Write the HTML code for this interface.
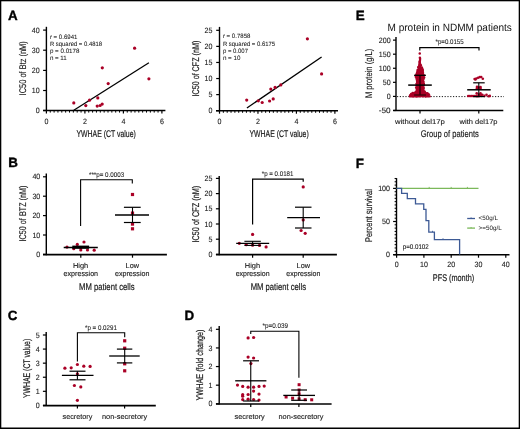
<!DOCTYPE html>
<html><head><meta charset="utf-8"><style>
html,body{margin:0;padding:0;background:#fff;}
svg{display:block;font-family:"Liberation Sans",sans-serif;will-change:transform;-webkit-font-smoothing:antialiased;text-rendering:geometricPrecision;}
</style></head><body>
<svg width="520" height="429" viewBox="0 0 520 429">
<rect x="0" y="0" width="520" height="429" fill="#fff"/>
<rect x="0" y="0" width="520" height="1.3" fill="#000"/>
<rect x="0" y="0" width="1.3" height="429" fill="#000"/>
<rect x="518.7" y="0" width="1.3" height="429" fill="#000"/>
<rect x="0" y="427.5" width="520" height="1.5" fill="#000"/>
<text x="8.00" y="19.80" font-size="13.4" font-weight="bold" text-anchor="start" fill="#000" stroke="#000" stroke-width="0.35">A</text>
<text x="355.80" y="19.60" font-size="13.4" font-weight="bold" text-anchor="start" fill="#000" stroke="#000" stroke-width="0.35">E</text>
<text x="8.20" y="167.10" font-size="13.4" font-weight="bold" text-anchor="start" fill="#000" stroke="#000" stroke-width="0.35">B</text>
<text x="355.80" y="167.50" font-size="13.4" font-weight="bold" text-anchor="start" fill="#000" stroke="#000" stroke-width="0.35">F</text>
<text x="7.80" y="320.20" font-size="13.4" font-weight="bold" text-anchor="start" fill="#000" stroke="#000" stroke-width="0.35">C</text>
<text x="184.60" y="320.00" font-size="13.4" font-weight="bold" text-anchor="start" fill="#000" stroke="#000" stroke-width="0.35">D</text>
<line x1="46.40" y1="26.80" x2="46.40" y2="111.00" stroke="#000" stroke-width="1.4" />
<line x1="43.10" y1="110.50" x2="165.40" y2="110.50" stroke="#000" stroke-width="1.4" />
<line x1="43.10" y1="30.10" x2="46.40" y2="30.10" stroke="#000" stroke-width="1.2" />
<text x="39.60" y="32.70" font-size="7.7" font-weight="normal" text-anchor="end" fill="#1a1a1a" textLength="7.90" lengthAdjust="spacingAndGlyphs" stroke="#1a1a1a" stroke-width="0.1">40</text>
<line x1="43.10" y1="50.20" x2="46.40" y2="50.20" stroke="#000" stroke-width="1.2" />
<text x="39.60" y="52.80" font-size="7.7" font-weight="normal" text-anchor="end" fill="#1a1a1a" textLength="7.90" lengthAdjust="spacingAndGlyphs" stroke="#1a1a1a" stroke-width="0.1">30</text>
<line x1="43.10" y1="70.40" x2="46.40" y2="70.40" stroke="#000" stroke-width="1.2" />
<text x="39.60" y="73.00" font-size="7.7" font-weight="normal" text-anchor="end" fill="#1a1a1a" textLength="7.90" lengthAdjust="spacingAndGlyphs" stroke="#1a1a1a" stroke-width="0.1">20</text>
<line x1="43.10" y1="90.50" x2="46.40" y2="90.50" stroke="#000" stroke-width="1.2" />
<text x="39.60" y="93.10" font-size="7.7" font-weight="normal" text-anchor="end" fill="#1a1a1a" textLength="7.90" lengthAdjust="spacingAndGlyphs" stroke="#1a1a1a" stroke-width="0.1">10</text>
<line x1="43.10" y1="110.50" x2="46.40" y2="110.50" stroke="#000" stroke-width="1.2" />
<text x="39.60" y="113.10" font-size="7.7" font-weight="normal" text-anchor="end" fill="#1a1a1a" textLength="3.95" lengthAdjust="spacingAndGlyphs" stroke="#1a1a1a" stroke-width="0.1">0</text>
<line x1="46.40" y1="110.50" x2="46.40" y2="113.50" stroke="#000" stroke-width="1.2" />
<line x1="50.25" y1="110.50" x2="50.25" y2="112.60" stroke="#000" stroke-width="1.0" />
<line x1="54.10" y1="110.50" x2="54.10" y2="112.60" stroke="#000" stroke-width="1.0" />
<line x1="57.95" y1="110.50" x2="57.95" y2="112.60" stroke="#000" stroke-width="1.0" />
<line x1="61.80" y1="110.50" x2="61.80" y2="112.60" stroke="#000" stroke-width="1.0" />
<line x1="65.65" y1="110.50" x2="65.65" y2="112.60" stroke="#000" stroke-width="1.0" />
<line x1="69.50" y1="110.50" x2="69.50" y2="112.60" stroke="#000" stroke-width="1.0" />
<line x1="73.35" y1="110.50" x2="73.35" y2="112.60" stroke="#000" stroke-width="1.0" />
<line x1="77.20" y1="110.50" x2="77.20" y2="112.60" stroke="#000" stroke-width="1.0" />
<line x1="81.05" y1="110.50" x2="81.05" y2="112.60" stroke="#000" stroke-width="1.0" />
<line x1="84.90" y1="110.50" x2="84.90" y2="113.50" stroke="#000" stroke-width="1.2" />
<line x1="88.75" y1="110.50" x2="88.75" y2="112.60" stroke="#000" stroke-width="1.0" />
<line x1="92.60" y1="110.50" x2="92.60" y2="112.60" stroke="#000" stroke-width="1.0" />
<line x1="96.45" y1="110.50" x2="96.45" y2="112.60" stroke="#000" stroke-width="1.0" />
<line x1="100.30" y1="110.50" x2="100.30" y2="112.60" stroke="#000" stroke-width="1.0" />
<line x1="104.15" y1="110.50" x2="104.15" y2="112.60" stroke="#000" stroke-width="1.0" />
<line x1="108.00" y1="110.50" x2="108.00" y2="112.60" stroke="#000" stroke-width="1.0" />
<line x1="111.85" y1="110.50" x2="111.85" y2="112.60" stroke="#000" stroke-width="1.0" />
<line x1="115.70" y1="110.50" x2="115.70" y2="112.60" stroke="#000" stroke-width="1.0" />
<line x1="119.55" y1="110.50" x2="119.55" y2="112.60" stroke="#000" stroke-width="1.0" />
<line x1="123.40" y1="110.50" x2="123.40" y2="113.50" stroke="#000" stroke-width="1.2" />
<line x1="127.25" y1="110.50" x2="127.25" y2="112.60" stroke="#000" stroke-width="1.0" />
<line x1="131.10" y1="110.50" x2="131.10" y2="112.60" stroke="#000" stroke-width="1.0" />
<line x1="134.95" y1="110.50" x2="134.95" y2="112.60" stroke="#000" stroke-width="1.0" />
<line x1="138.80" y1="110.50" x2="138.80" y2="112.60" stroke="#000" stroke-width="1.0" />
<line x1="142.65" y1="110.50" x2="142.65" y2="112.60" stroke="#000" stroke-width="1.0" />
<line x1="146.50" y1="110.50" x2="146.50" y2="112.60" stroke="#000" stroke-width="1.0" />
<line x1="150.35" y1="110.50" x2="150.35" y2="112.60" stroke="#000" stroke-width="1.0" />
<line x1="154.20" y1="110.50" x2="154.20" y2="112.60" stroke="#000" stroke-width="1.0" />
<line x1="158.05" y1="110.50" x2="158.05" y2="112.60" stroke="#000" stroke-width="1.0" />
<line x1="161.90" y1="110.50" x2="161.90" y2="113.50" stroke="#000" stroke-width="1.2" />
<text x="46.40" y="123.60" font-size="7.7" font-weight="normal" text-anchor="middle" fill="#1a1a1a" textLength="3.95" lengthAdjust="spacingAndGlyphs" stroke="#1a1a1a" stroke-width="0.1">0</text>
<text x="84.90" y="123.60" font-size="7.7" font-weight="normal" text-anchor="middle" fill="#1a1a1a" textLength="3.95" lengthAdjust="spacingAndGlyphs" stroke="#1a1a1a" stroke-width="0.1">2</text>
<text x="123.40" y="123.60" font-size="7.7" font-weight="normal" text-anchor="middle" fill="#1a1a1a" textLength="3.95" lengthAdjust="spacingAndGlyphs" stroke="#1a1a1a" stroke-width="0.1">4</text>
<text x="161.90" y="123.60" font-size="7.7" font-weight="normal" text-anchor="middle" fill="#1a1a1a" textLength="3.95" lengthAdjust="spacingAndGlyphs" stroke="#1a1a1a" stroke-width="0.1">6</text>
<text x="26.10" y="95.40" font-size="9.7" font-weight="normal" text-anchor="start" fill="#1a1a1a" textLength="54.20" lengthAdjust="spacingAndGlyphs" stroke="#1a1a1a" stroke-width="0.12" transform="rotate(-90 26.10 95.40)">IC50 of Btz (nM)</text>
<text x="76.50" y="136.90" font-size="9.7" font-weight="normal" text-anchor="start" fill="#1a1a1a" textLength="59.30" lengthAdjust="spacingAndGlyphs" stroke="#1a1a1a" stroke-width="0.2">YWHAE (CT value)</text>
<text x="49.90" y="38.50" font-size="6.3" font-weight="normal" text-anchor="start" fill="#1a1a1a" textLength="27.50" lengthAdjust="spacingAndGlyphs" stroke="#1a1a1a" stroke-width="0.06">r = 0.6941</text>
<text x="49.90" y="45.50" font-size="6.3" font-weight="normal" text-anchor="start" fill="#1a1a1a" textLength="52.20" lengthAdjust="spacingAndGlyphs" stroke="#1a1a1a" stroke-width="0.06">R squared = 0.4818</text>
<text x="49.90" y="52.70" font-size="6.3" font-weight="normal" text-anchor="start" fill="#1a1a1a" textLength="29.60" lengthAdjust="spacingAndGlyphs" stroke="#1a1a1a" stroke-width="0.06">p = 0.0178</text>
<text x="49.90" y="59.80" font-size="6.3" font-weight="normal" text-anchor="start" fill="#1a1a1a" textLength="16.90" lengthAdjust="spacingAndGlyphs" stroke="#1a1a1a" stroke-width="0.06">n = 11</text>
<line x1="73.80" y1="110.30" x2="148.90" y2="62.70" stroke="#000" stroke-width="1.3" />
<circle cx="73.80" cy="102.90" r="1.6" fill="#aa0026"/>
<circle cx="85.80" cy="105.60" r="1.6" fill="#aa0026"/>
<circle cx="89.50" cy="100.20" r="1.6" fill="#aa0026"/>
<circle cx="97.80" cy="97.90" r="1.6" fill="#aa0026"/>
<circle cx="97.20" cy="106.10" r="1.6" fill="#aa0026"/>
<circle cx="100.10" cy="105.50" r="1.6" fill="#aa0026"/>
<circle cx="102.20" cy="104.10" r="1.6" fill="#aa0026"/>
<circle cx="102.30" cy="67.80" r="1.6" fill="#aa0026"/>
<circle cx="108.20" cy="83.60" r="1.6" fill="#aa0026"/>
<circle cx="148.90" cy="78.80" r="1.6" fill="#aa0026"/>
<circle cx="134.60" cy="48.20" r="1.6" fill="#aa0026"/>
<line x1="219.50" y1="26.90" x2="219.50" y2="111.20" stroke="#000" stroke-width="1.4" />
<line x1="216.00" y1="110.70" x2="338.00" y2="110.70" stroke="#000" stroke-width="1.4" />
<line x1="216.20" y1="30.30" x2="219.50" y2="30.30" stroke="#000" stroke-width="1.2" />
<text x="212.40" y="32.90" font-size="7.7" font-weight="normal" text-anchor="end" fill="#1a1a1a" textLength="7.90" lengthAdjust="spacingAndGlyphs" stroke="#1a1a1a" stroke-width="0.1">25</text>
<line x1="216.20" y1="46.38" x2="219.50" y2="46.38" stroke="#000" stroke-width="1.2" />
<text x="212.40" y="48.98" font-size="7.7" font-weight="normal" text-anchor="end" fill="#1a1a1a" textLength="7.90" lengthAdjust="spacingAndGlyphs" stroke="#1a1a1a" stroke-width="0.1">20</text>
<line x1="216.20" y1="62.46" x2="219.50" y2="62.46" stroke="#000" stroke-width="1.2" />
<text x="212.40" y="65.06" font-size="7.7" font-weight="normal" text-anchor="end" fill="#1a1a1a" textLength="7.90" lengthAdjust="spacingAndGlyphs" stroke="#1a1a1a" stroke-width="0.1">15</text>
<line x1="216.20" y1="78.54" x2="219.50" y2="78.54" stroke="#000" stroke-width="1.2" />
<text x="212.40" y="81.14" font-size="7.7" font-weight="normal" text-anchor="end" fill="#1a1a1a" textLength="7.90" lengthAdjust="spacingAndGlyphs" stroke="#1a1a1a" stroke-width="0.1">10</text>
<line x1="216.20" y1="94.62" x2="219.50" y2="94.62" stroke="#000" stroke-width="1.2" />
<text x="212.40" y="97.22" font-size="7.7" font-weight="normal" text-anchor="end" fill="#1a1a1a" textLength="3.95" lengthAdjust="spacingAndGlyphs" stroke="#1a1a1a" stroke-width="0.1">5</text>
<line x1="216.20" y1="110.70" x2="219.50" y2="110.70" stroke="#000" stroke-width="1.2" />
<text x="212.40" y="113.30" font-size="7.7" font-weight="normal" text-anchor="end" fill="#1a1a1a" textLength="3.95" lengthAdjust="spacingAndGlyphs" stroke="#1a1a1a" stroke-width="0.1">0</text>
<line x1="219.50" y1="110.70" x2="219.50" y2="113.70" stroke="#000" stroke-width="1.2" />
<line x1="223.35" y1="110.70" x2="223.35" y2="112.80" stroke="#000" stroke-width="1.0" />
<line x1="227.19" y1="110.70" x2="227.19" y2="112.80" stroke="#000" stroke-width="1.0" />
<line x1="231.04" y1="110.70" x2="231.04" y2="112.80" stroke="#000" stroke-width="1.0" />
<line x1="234.88" y1="110.70" x2="234.88" y2="112.80" stroke="#000" stroke-width="1.0" />
<line x1="238.73" y1="110.70" x2="238.73" y2="112.80" stroke="#000" stroke-width="1.0" />
<line x1="242.58" y1="110.70" x2="242.58" y2="112.80" stroke="#000" stroke-width="1.0" />
<line x1="246.42" y1="110.70" x2="246.42" y2="112.80" stroke="#000" stroke-width="1.0" />
<line x1="250.27" y1="110.70" x2="250.27" y2="112.80" stroke="#000" stroke-width="1.0" />
<line x1="254.11" y1="110.70" x2="254.11" y2="112.80" stroke="#000" stroke-width="1.0" />
<line x1="257.96" y1="110.70" x2="257.96" y2="113.70" stroke="#000" stroke-width="1.2" />
<line x1="261.81" y1="110.70" x2="261.81" y2="112.80" stroke="#000" stroke-width="1.0" />
<line x1="265.65" y1="110.70" x2="265.65" y2="112.80" stroke="#000" stroke-width="1.0" />
<line x1="269.50" y1="110.70" x2="269.50" y2="112.80" stroke="#000" stroke-width="1.0" />
<line x1="273.34" y1="110.70" x2="273.34" y2="112.80" stroke="#000" stroke-width="1.0" />
<line x1="277.19" y1="110.70" x2="277.19" y2="112.80" stroke="#000" stroke-width="1.0" />
<line x1="281.04" y1="110.70" x2="281.04" y2="112.80" stroke="#000" stroke-width="1.0" />
<line x1="284.88" y1="110.70" x2="284.88" y2="112.80" stroke="#000" stroke-width="1.0" />
<line x1="288.73" y1="110.70" x2="288.73" y2="112.80" stroke="#000" stroke-width="1.0" />
<line x1="292.57" y1="110.70" x2="292.57" y2="112.80" stroke="#000" stroke-width="1.0" />
<line x1="296.42" y1="110.70" x2="296.42" y2="113.70" stroke="#000" stroke-width="1.2" />
<line x1="300.27" y1="110.70" x2="300.27" y2="112.80" stroke="#000" stroke-width="1.0" />
<line x1="304.11" y1="110.70" x2="304.11" y2="112.80" stroke="#000" stroke-width="1.0" />
<line x1="307.96" y1="110.70" x2="307.96" y2="112.80" stroke="#000" stroke-width="1.0" />
<line x1="311.80" y1="110.70" x2="311.80" y2="112.80" stroke="#000" stroke-width="1.0" />
<line x1="315.65" y1="110.70" x2="315.65" y2="112.80" stroke="#000" stroke-width="1.0" />
<line x1="319.50" y1="110.70" x2="319.50" y2="112.80" stroke="#000" stroke-width="1.0" />
<line x1="323.34" y1="110.70" x2="323.34" y2="112.80" stroke="#000" stroke-width="1.0" />
<line x1="327.19" y1="110.70" x2="327.19" y2="112.80" stroke="#000" stroke-width="1.0" />
<line x1="331.03" y1="110.70" x2="331.03" y2="112.80" stroke="#000" stroke-width="1.0" />
<line x1="334.88" y1="110.70" x2="334.88" y2="113.70" stroke="#000" stroke-width="1.2" />
<text x="219.50" y="123.60" font-size="7.7" font-weight="normal" text-anchor="middle" fill="#1a1a1a" textLength="3.95" lengthAdjust="spacingAndGlyphs" stroke="#1a1a1a" stroke-width="0.1">0</text>
<text x="257.96" y="123.60" font-size="7.7" font-weight="normal" text-anchor="middle" fill="#1a1a1a" textLength="3.95" lengthAdjust="spacingAndGlyphs" stroke="#1a1a1a" stroke-width="0.1">2</text>
<text x="296.42" y="123.60" font-size="7.7" font-weight="normal" text-anchor="middle" fill="#1a1a1a" textLength="3.95" lengthAdjust="spacingAndGlyphs" stroke="#1a1a1a" stroke-width="0.1">4</text>
<text x="334.88" y="123.60" font-size="7.7" font-weight="normal" text-anchor="middle" fill="#1a1a1a" textLength="3.95" lengthAdjust="spacingAndGlyphs" stroke="#1a1a1a" stroke-width="0.1">6</text>
<text x="198.60" y="96.50" font-size="9.7" font-weight="normal" text-anchor="start" fill="#1a1a1a" textLength="55.80" lengthAdjust="spacingAndGlyphs" stroke="#1a1a1a" stroke-width="0.2" transform="rotate(-90 198.60 96.50)">IC50 of CFZ (nM)</text>
<text x="249.50" y="137.00" font-size="9.7" font-weight="normal" text-anchor="start" fill="#1a1a1a" textLength="59.20" lengthAdjust="spacingAndGlyphs" stroke="#1a1a1a" stroke-width="0.2">YWHAE (CT value)</text>
<text x="222.90" y="38.00" font-size="6.3" font-weight="normal" text-anchor="start" fill="#1a1a1a" textLength="27.50" lengthAdjust="spacingAndGlyphs" stroke="#1a1a1a" stroke-width="0.06">r = 0.7858</text>
<text x="222.90" y="45.50" font-size="6.3" font-weight="normal" text-anchor="start" fill="#1a1a1a" textLength="52.20" lengthAdjust="spacingAndGlyphs" stroke="#1a1a1a" stroke-width="0.06">R squared = 0.6175</text>
<text x="222.90" y="52.50" font-size="6.3" font-weight="normal" text-anchor="start" fill="#1a1a1a" textLength="25.10" lengthAdjust="spacingAndGlyphs" stroke="#1a1a1a" stroke-width="0.06">p = 0.007</text>
<text x="222.90" y="59.80" font-size="6.3" font-weight="normal" text-anchor="start" fill="#1a1a1a" textLength="17.60" lengthAdjust="spacingAndGlyphs" stroke="#1a1a1a" stroke-width="0.06">n = 10</text>
<line x1="246.90" y1="108.00" x2="321.60" y2="57.00" stroke="#000" stroke-width="1.3" />
<circle cx="246.70" cy="100.10" r="1.6" fill="#aa0026"/>
<circle cx="258.30" cy="100.80" r="1.6" fill="#aa0026"/>
<circle cx="262.20" cy="102.50" r="1.6" fill="#aa0026"/>
<circle cx="269.60" cy="101.00" r="1.6" fill="#aa0026"/>
<circle cx="270.80" cy="89.10" r="1.6" fill="#aa0026"/>
<circle cx="273.20" cy="98.90" r="1.6" fill="#aa0026"/>
<circle cx="275.10" cy="87.40" r="1.6" fill="#aa0026"/>
<circle cx="280.80" cy="84.90" r="1.6" fill="#aa0026"/>
<circle cx="321.60" cy="73.90" r="1.6" fill="#aa0026"/>
<circle cx="307.40" cy="38.80" r="1.6" fill="#aa0026"/>
<line x1="396.00" y1="36.90" x2="396.00" y2="111.10" stroke="#000" stroke-width="1.4" />
<line x1="393.30" y1="110.60" x2="503.30" y2="110.60" stroke="#000" stroke-width="1.5" />
<line x1="393.00" y1="40.12" x2="396.00" y2="40.12" stroke="#000" stroke-width="1.2" />
<text x="390.60" y="42.72" font-size="7.7" font-weight="normal" text-anchor="end" fill="#1a1a1a" textLength="11.85" lengthAdjust="spacingAndGlyphs" stroke="#1a1a1a" stroke-width="0.1">200</text>
<line x1="393.00" y1="54.19" x2="396.00" y2="54.19" stroke="#000" stroke-width="1.2" />
<text x="390.60" y="56.79" font-size="7.7" font-weight="normal" text-anchor="end" fill="#1a1a1a" textLength="11.85" lengthAdjust="spacingAndGlyphs" stroke="#1a1a1a" stroke-width="0.1">150</text>
<line x1="393.00" y1="68.26" x2="396.00" y2="68.26" stroke="#000" stroke-width="1.2" />
<text x="390.60" y="70.86" font-size="7.7" font-weight="normal" text-anchor="end" fill="#1a1a1a" textLength="11.85" lengthAdjust="spacingAndGlyphs" stroke="#1a1a1a" stroke-width="0.1">100</text>
<line x1="393.00" y1="82.33" x2="396.00" y2="82.33" stroke="#000" stroke-width="1.2" />
<text x="390.60" y="84.93" font-size="7.7" font-weight="normal" text-anchor="end" fill="#1a1a1a" textLength="7.90" lengthAdjust="spacingAndGlyphs" stroke="#1a1a1a" stroke-width="0.1">50</text>
<line x1="393.00" y1="96.40" x2="396.00" y2="96.40" stroke="#000" stroke-width="1.2" />
<text x="390.60" y="99.00" font-size="7.7" font-weight="normal" text-anchor="end" fill="#1a1a1a" textLength="3.95" lengthAdjust="spacingAndGlyphs" stroke="#1a1a1a" stroke-width="0.1">0</text>
<line x1="393.00" y1="110.47" x2="396.00" y2="110.47" stroke="#000" stroke-width="1.2" />
<text x="390.60" y="113.07" font-size="7.7" font-weight="normal" text-anchor="end" fill="#1a1a1a" textLength="11.85" lengthAdjust="spacingAndGlyphs" stroke="#1a1a1a" stroke-width="0.1">-50</text>
<line x1="420.00" y1="110.60" x2="420.00" y2="113.40" stroke="#000" stroke-width="1.2" />
<line x1="478.80" y1="110.60" x2="478.80" y2="113.40" stroke="#000" stroke-width="1.2" />
<text x="387.50" y="31.20" font-size="10.6" font-weight="normal" text-anchor="start" fill="#111" textLength="124.40" lengthAdjust="spacingAndGlyphs">M protein in NDMM patients</text>
<text x="371.90" y="98.10" font-size="9.7" font-weight="normal" text-anchor="start" fill="#1a1a1a" textLength="49.40" lengthAdjust="spacingAndGlyphs" stroke="#1a1a1a" stroke-width="0.12" transform="rotate(-90 371.90 98.10)">M protein (g/L)</text>
<text x="395.10" y="123.80" font-size="7.0" font-weight="normal" text-anchor="start" fill="#1a1a1a" textLength="49.70" lengthAdjust="spacingAndGlyphs" stroke="#1a1a1a" stroke-width="0.12">without del17p</text>
<text x="459.60" y="123.90" font-size="7.0" font-weight="normal" text-anchor="start" fill="#1a1a1a" textLength="37.90" lengthAdjust="spacingAndGlyphs" stroke="#1a1a1a" stroke-width="0.12">with del17p</text>
<text x="420.70" y="136.90" font-size="9.7" font-weight="normal" text-anchor="start" fill="#1a1a1a" textLength="58.10" lengthAdjust="spacingAndGlyphs" stroke="#1a1a1a" stroke-width="0.16">Group of patients</text>
<line x1="397.00" y1="96.6" x2="504" y2="96.6" stroke="#000" stroke-width="0.9" stroke-dasharray="1.2 1.6"/>
<polyline points="419.80,50.60 419.80,47.60 479.00,47.60 479.00,50.60" fill="none" stroke="#000" stroke-width="1.2" stroke-linejoin="miter"/>
<text x="449.60" y="44.20" font-size="6.9" font-weight="normal" text-anchor="middle" fill="#1a1a1a" textLength="28.00" lengthAdjust="spacingAndGlyphs" stroke="#1a1a1a" stroke-width="0.08">*p=0.0155</text>
<circle cx="419.75" cy="53.50" r="1.25" fill="#aa0026"/>
<circle cx="419.89" cy="57.73" r="1.22" fill="#aa0026"/>
<circle cx="420.09" cy="58.79" r="1.22" fill="#aa0026"/>
<circle cx="420.02" cy="60.03" r="1.22" fill="#aa0026"/>
<circle cx="419.73" cy="61.20" r="1.22" fill="#aa0026"/>
<circle cx="419.72" cy="62.27" r="1.22" fill="#aa0026"/>
<circle cx="419.74" cy="63.20" r="1.22" fill="#aa0026"/>
<circle cx="419.38" cy="64.66" r="1.22" fill="#aa0026"/>
<circle cx="420.35" cy="64.36" r="1.22" fill="#aa0026"/>
<circle cx="419.23" cy="65.82" r="1.22" fill="#aa0026"/>
<circle cx="420.89" cy="65.55" r="1.22" fill="#aa0026"/>
<circle cx="418.37" cy="66.88" r="1.22" fill="#aa0026"/>
<circle cx="419.87" cy="66.52" r="1.22" fill="#aa0026"/>
<circle cx="418.37" cy="67.64" r="1.22" fill="#aa0026"/>
<circle cx="420.05" cy="67.87" r="1.22" fill="#aa0026"/>
<circle cx="421.85" cy="67.58" r="1.22" fill="#aa0026"/>
<circle cx="419.07" cy="68.99" r="1.22" fill="#aa0026"/>
<circle cx="420.71" cy="68.81" r="1.22" fill="#aa0026"/>
<circle cx="422.23" cy="68.80" r="1.22" fill="#aa0026"/>
<circle cx="417.67" cy="69.87" r="1.22" fill="#aa0026"/>
<circle cx="419.23" cy="70.01" r="1.22" fill="#aa0026"/>
<circle cx="421.04" cy="70.11" r="1.22" fill="#aa0026"/>
<circle cx="422.74" cy="69.81" r="1.22" fill="#aa0026"/>
<circle cx="417.54" cy="70.93" r="1.22" fill="#aa0026"/>
<circle cx="419.12" cy="70.87" r="1.22" fill="#aa0026"/>
<circle cx="420.97" cy="71.23" r="1.22" fill="#aa0026"/>
<circle cx="422.84" cy="71.01" r="1.22" fill="#aa0026"/>
<circle cx="417.28" cy="72.24" r="1.22" fill="#aa0026"/>
<circle cx="418.58" cy="72.37" r="1.22" fill="#aa0026"/>
<circle cx="420.27" cy="72.19" r="1.22" fill="#aa0026"/>
<circle cx="421.49" cy="71.98" r="1.22" fill="#aa0026"/>
<circle cx="422.87" cy="72.45" r="1.22" fill="#aa0026"/>
<circle cx="416.88" cy="73.24" r="1.22" fill="#aa0026"/>
<circle cx="418.61" cy="73.06" r="1.22" fill="#aa0026"/>
<circle cx="419.98" cy="73.13" r="1.22" fill="#aa0026"/>
<circle cx="421.27" cy="73.08" r="1.22" fill="#aa0026"/>
<circle cx="422.77" cy="73.17" r="1.22" fill="#aa0026"/>
<circle cx="416.90" cy="74.19" r="1.22" fill="#aa0026"/>
<circle cx="418.31" cy="74.42" r="1.22" fill="#aa0026"/>
<circle cx="420.23" cy="74.56" r="1.22" fill="#aa0026"/>
<circle cx="421.88" cy="74.29" r="1.22" fill="#aa0026"/>
<circle cx="423.24" cy="74.59" r="1.22" fill="#aa0026"/>
<circle cx="416.02" cy="75.34" r="1.22" fill="#aa0026"/>
<circle cx="417.58" cy="75.37" r="1.22" fill="#aa0026"/>
<circle cx="419.24" cy="75.54" r="1.22" fill="#aa0026"/>
<circle cx="420.61" cy="75.25" r="1.22" fill="#aa0026"/>
<circle cx="422.21" cy="75.43" r="1.22" fill="#aa0026"/>
<circle cx="424.04" cy="75.60" r="1.22" fill="#aa0026"/>
<circle cx="415.79" cy="76.69" r="1.22" fill="#aa0026"/>
<circle cx="416.88" cy="76.80" r="1.22" fill="#aa0026"/>
<circle cx="418.74" cy="76.79" r="1.22" fill="#aa0026"/>
<circle cx="420.18" cy="76.55" r="1.22" fill="#aa0026"/>
<circle cx="421.37" cy="76.40" r="1.22" fill="#aa0026"/>
<circle cx="422.93" cy="76.38" r="1.22" fill="#aa0026"/>
<circle cx="417.36" cy="77.62" r="1.22" fill="#aa0026"/>
<circle cx="418.92" cy="77.45" r="1.22" fill="#aa0026"/>
<circle cx="420.60" cy="77.50" r="1.22" fill="#aa0026"/>
<circle cx="422.35" cy="77.46" r="1.22" fill="#aa0026"/>
<circle cx="424.13" cy="77.52" r="1.22" fill="#aa0026"/>
<circle cx="416.50" cy="78.73" r="1.22" fill="#aa0026"/>
<circle cx="417.73" cy="78.97" r="1.22" fill="#aa0026"/>
<circle cx="419.61" cy="78.78" r="1.22" fill="#aa0026"/>
<circle cx="420.67" cy="78.59" r="1.22" fill="#aa0026"/>
<circle cx="421.81" cy="78.72" r="1.22" fill="#aa0026"/>
<circle cx="423.61" cy="78.63" r="1.22" fill="#aa0026"/>
<circle cx="418.82" cy="79.91" r="1.22" fill="#aa0026"/>
<circle cx="419.79" cy="79.92" r="1.22" fill="#aa0026"/>
<circle cx="421.17" cy="79.91" r="1.22" fill="#aa0026"/>
<circle cx="423.12" cy="80.00" r="1.22" fill="#aa0026"/>
<circle cx="417.02" cy="80.83" r="1.22" fill="#aa0026"/>
<circle cx="418.71" cy="81.02" r="1.22" fill="#aa0026"/>
<circle cx="420.17" cy="80.91" r="1.22" fill="#aa0026"/>
<circle cx="421.28" cy="81.16" r="1.22" fill="#aa0026"/>
<circle cx="423.11" cy="81.15" r="1.22" fill="#aa0026"/>
<circle cx="417.08" cy="81.96" r="1.22" fill="#aa0026"/>
<circle cx="418.48" cy="82.03" r="1.22" fill="#aa0026"/>
<circle cx="419.72" cy="81.86" r="1.22" fill="#aa0026"/>
<circle cx="421.40" cy="81.98" r="1.22" fill="#aa0026"/>
<circle cx="423.33" cy="82.07" r="1.22" fill="#aa0026"/>
<circle cx="416.95" cy="83.43" r="1.22" fill="#aa0026"/>
<circle cx="418.25" cy="83.06" r="1.22" fill="#aa0026"/>
<circle cx="419.84" cy="83.05" r="1.22" fill="#aa0026"/>
<circle cx="421.49" cy="83.26" r="1.22" fill="#aa0026"/>
<circle cx="423.54" cy="83.19" r="1.22" fill="#aa0026"/>
<circle cx="416.62" cy="84.09" r="1.22" fill="#aa0026"/>
<circle cx="417.96" cy="84.50" r="1.22" fill="#aa0026"/>
<circle cx="419.46" cy="84.43" r="1.22" fill="#aa0026"/>
<circle cx="420.70" cy="84.14" r="1.22" fill="#aa0026"/>
<circle cx="422.31" cy="84.22" r="1.22" fill="#aa0026"/>
<circle cx="423.84" cy="84.25" r="1.22" fill="#aa0026"/>
<circle cx="416.53" cy="85.51" r="1.22" fill="#aa0026"/>
<circle cx="417.56" cy="85.21" r="1.22" fill="#aa0026"/>
<circle cx="419.04" cy="85.60" r="1.22" fill="#aa0026"/>
<circle cx="420.93" cy="85.22" r="1.22" fill="#aa0026"/>
<circle cx="422.44" cy="85.64" r="1.22" fill="#aa0026"/>
<circle cx="423.65" cy="85.42" r="1.22" fill="#aa0026"/>
<circle cx="417.40" cy="86.74" r="1.22" fill="#aa0026"/>
<circle cx="419.32" cy="86.51" r="1.22" fill="#aa0026"/>
<circle cx="421.03" cy="86.47" r="1.22" fill="#aa0026"/>
<circle cx="422.53" cy="86.66" r="1.22" fill="#aa0026"/>
<circle cx="416.18" cy="87.47" r="1.22" fill="#aa0026"/>
<circle cx="417.83" cy="87.48" r="1.22" fill="#aa0026"/>
<circle cx="419.21" cy="87.42" r="1.22" fill="#aa0026"/>
<circle cx="420.99" cy="87.53" r="1.22" fill="#aa0026"/>
<circle cx="422.19" cy="87.64" r="1.22" fill="#aa0026"/>
<circle cx="423.65" cy="87.81" r="1.22" fill="#aa0026"/>
<circle cx="416.69" cy="88.71" r="1.22" fill="#aa0026"/>
<circle cx="418.04" cy="88.67" r="1.22" fill="#aa0026"/>
<circle cx="419.81" cy="88.45" r="1.22" fill="#aa0026"/>
<circle cx="421.85" cy="88.54" r="1.22" fill="#aa0026"/>
<circle cx="423.47" cy="88.73" r="1.22" fill="#aa0026"/>
<circle cx="417.04" cy="89.83" r="1.22" fill="#aa0026"/>
<circle cx="418.69" cy="89.60" r="1.22" fill="#aa0026"/>
<circle cx="420.04" cy="89.67" r="1.22" fill="#aa0026"/>
<circle cx="421.35" cy="89.94" r="1.22" fill="#aa0026"/>
<circle cx="423.00" cy="89.93" r="1.22" fill="#aa0026"/>
<circle cx="416.58" cy="90.96" r="1.22" fill="#aa0026"/>
<circle cx="417.97" cy="90.91" r="1.22" fill="#aa0026"/>
<circle cx="419.44" cy="90.88" r="1.22" fill="#aa0026"/>
<circle cx="420.70" cy="90.89" r="1.22" fill="#aa0026"/>
<circle cx="422.30" cy="91.00" r="1.22" fill="#aa0026"/>
<circle cx="423.65" cy="90.78" r="1.22" fill="#aa0026"/>
<circle cx="415.55" cy="92.17" r="1.22" fill="#aa0026"/>
<circle cx="416.64" cy="91.81" r="1.22" fill="#aa0026"/>
<circle cx="418.39" cy="91.79" r="1.22" fill="#aa0026"/>
<circle cx="419.84" cy="91.79" r="1.22" fill="#aa0026"/>
<circle cx="421.68" cy="92.14" r="1.22" fill="#aa0026"/>
<circle cx="423.38" cy="91.83" r="1.22" fill="#aa0026"/>
<circle cx="424.82" cy="91.82" r="1.22" fill="#aa0026"/>
<circle cx="412.60" cy="92.96" r="1.22" fill="#aa0026"/>
<circle cx="414.13" cy="93.05" r="1.22" fill="#aa0026"/>
<circle cx="415.38" cy="93.34" r="1.22" fill="#aa0026"/>
<circle cx="417.13" cy="92.93" r="1.22" fill="#aa0026"/>
<circle cx="418.42" cy="93.11" r="1.22" fill="#aa0026"/>
<circle cx="419.90" cy="92.95" r="1.22" fill="#aa0026"/>
<circle cx="421.43" cy="93.21" r="1.22" fill="#aa0026"/>
<circle cx="422.78" cy="93.13" r="1.22" fill="#aa0026"/>
<circle cx="424.57" cy="92.86" r="1.22" fill="#aa0026"/>
<circle cx="426.04" cy="93.16" r="1.22" fill="#aa0026"/>
<circle cx="427.42" cy="93.34" r="1.22" fill="#aa0026"/>
<circle cx="411.08" cy="94.00" r="1.22" fill="#aa0026"/>
<circle cx="412.19" cy="93.97" r="1.22" fill="#aa0026"/>
<circle cx="414.03" cy="94.09" r="1.22" fill="#aa0026"/>
<circle cx="415.18" cy="94.16" r="1.22" fill="#aa0026"/>
<circle cx="417.18" cy="94.36" r="1.22" fill="#aa0026"/>
<circle cx="418.32" cy="94.02" r="1.22" fill="#aa0026"/>
<circle cx="420.25" cy="94.24" r="1.22" fill="#aa0026"/>
<circle cx="421.65" cy="93.99" r="1.22" fill="#aa0026"/>
<circle cx="422.80" cy="94.29" r="1.22" fill="#aa0026"/>
<circle cx="424.56" cy="93.99" r="1.22" fill="#aa0026"/>
<circle cx="426.40" cy="94.27" r="1.22" fill="#aa0026"/>
<circle cx="427.85" cy="93.99" r="1.22" fill="#aa0026"/>
<circle cx="428.94" cy="94.38" r="1.22" fill="#aa0026"/>
<circle cx="410.13" cy="95.33" r="1.22" fill="#aa0026"/>
<circle cx="411.98" cy="95.18" r="1.22" fill="#aa0026"/>
<circle cx="413.01" cy="95.31" r="1.22" fill="#aa0026"/>
<circle cx="414.58" cy="95.10" r="1.22" fill="#aa0026"/>
<circle cx="416.04" cy="95.08" r="1.22" fill="#aa0026"/>
<circle cx="417.57" cy="95.21" r="1.22" fill="#aa0026"/>
<circle cx="419.13" cy="95.43" r="1.22" fill="#aa0026"/>
<circle cx="420.63" cy="95.30" r="1.22" fill="#aa0026"/>
<circle cx="422.06" cy="95.22" r="1.22" fill="#aa0026"/>
<circle cx="423.47" cy="95.18" r="1.22" fill="#aa0026"/>
<circle cx="424.97" cy="95.42" r="1.22" fill="#aa0026"/>
<circle cx="426.80" cy="95.14" r="1.22" fill="#aa0026"/>
<circle cx="428.26" cy="95.52" r="1.22" fill="#aa0026"/>
<circle cx="410.10" cy="96.40" r="1.22" fill="#aa0026"/>
<circle cx="411.86" cy="96.35" r="1.22" fill="#aa0026"/>
<circle cx="413.18" cy="96.49" r="1.22" fill="#aa0026"/>
<circle cx="414.98" cy="96.32" r="1.22" fill="#aa0026"/>
<circle cx="416.41" cy="96.50" r="1.22" fill="#aa0026"/>
<circle cx="417.81" cy="96.35" r="1.22" fill="#aa0026"/>
<circle cx="419.15" cy="96.18" r="1.22" fill="#aa0026"/>
<circle cx="420.54" cy="96.19" r="1.22" fill="#aa0026"/>
<circle cx="422.42" cy="96.28" r="1.22" fill="#aa0026"/>
<circle cx="423.59" cy="96.19" r="1.22" fill="#aa0026"/>
<circle cx="425.51" cy="96.59" r="1.22" fill="#aa0026"/>
<circle cx="426.93" cy="96.29" r="1.22" fill="#aa0026"/>
<circle cx="428.19" cy="96.30" r="1.22" fill="#aa0026"/>
<circle cx="429.65" cy="96.37" r="1.22" fill="#aa0026"/>
<line x1="420.00" y1="75.30" x2="420.00" y2="95.00" stroke="#1a0006" stroke-width="1.2" />
<line x1="414.10" y1="75.30" x2="425.90" y2="75.30" stroke="#000" stroke-width="1.3" />
<line x1="414.10" y1="95.00" x2="425.90" y2="95.00" stroke="#3a0008" stroke-width="1.3" />
<line x1="408.20" y1="85.10" x2="431.80" y2="85.10" stroke="#000" stroke-width="1.5" />
<circle cx="474.60" cy="79.00" r="1.3" fill="#aa0026"/>
<circle cx="476.30" cy="78.50" r="1.3" fill="#aa0026"/>
<circle cx="478.10" cy="77.80" r="1.3" fill="#aa0026"/>
<circle cx="479.80" cy="77.10" r="1.3" fill="#aa0026"/>
<circle cx="481.20" cy="77.00" r="1.3" fill="#aa0026"/>
<circle cx="482.80" cy="78.70" r="1.3" fill="#aa0026"/>
<circle cx="475.40" cy="79.40" r="1.3" fill="#aa0026"/>
<circle cx="477.00" cy="86.90" r="1.3" fill="#aa0026"/>
<circle cx="480.50" cy="87.00" r="1.3" fill="#aa0026"/>
<circle cx="477.00" cy="88.30" r="1.3" fill="#aa0026"/>
<circle cx="480.50" cy="88.40" r="1.3" fill="#aa0026"/>
<circle cx="478.80" cy="87.50" r="1.3" fill="#aa0026"/>
<circle cx="476.70" cy="93.40" r="1.3" fill="#aa0026"/>
<circle cx="480.50" cy="93.40" r="1.3" fill="#aa0026"/>
<circle cx="478.80" cy="94.50" r="1.3" fill="#aa0026"/>
<circle cx="468.20" cy="96.00" r="1.3" fill="#aa0026"/>
<circle cx="469.80" cy="96.00" r="1.3" fill="#aa0026"/>
<circle cx="471.40" cy="96.00" r="1.3" fill="#aa0026"/>
<circle cx="473.00" cy="96.00" r="1.3" fill="#aa0026"/>
<circle cx="474.60" cy="96.00" r="1.3" fill="#aa0026"/>
<circle cx="476.20" cy="96.10" r="1.3" fill="#aa0026"/>
<circle cx="477.80" cy="96.20" r="1.3" fill="#aa0026"/>
<circle cx="479.60" cy="96.00" r="1.3" fill="#aa0026"/>
<circle cx="481.00" cy="95.40" r="1.3" fill="#aa0026"/>
<circle cx="482.30" cy="94.80" r="1.3" fill="#aa0026"/>
<circle cx="484.40" cy="95.90" r="1.3" fill="#aa0026"/>
<circle cx="486.50" cy="94.80" r="1.3" fill="#aa0026"/>
<circle cx="488.60" cy="96.20" r="1.3" fill="#aa0026"/>
<circle cx="489.80" cy="95.90" r="1.3" fill="#aa0026"/>
<line x1="478.80" y1="82.80" x2="478.80" y2="96.60" stroke="#000" stroke-width="1.1" />
<line x1="473.20" y1="82.80" x2="484.70" y2="82.80" stroke="#000" stroke-width="1.2" />
<line x1="473.20" y1="96.60" x2="484.70" y2="96.60" stroke="#000" stroke-width="1.2" />
<line x1="467.20" y1="89.80" x2="490.70" y2="89.80" stroke="#000" stroke-width="1.5" />
<line x1="46.30" y1="173.50" x2="46.30" y2="255.20" stroke="#000" stroke-width="1.4" />
<line x1="43.00" y1="254.70" x2="166.90" y2="254.70" stroke="#000" stroke-width="1.8" />
<line x1="43.00" y1="176.80" x2="46.30" y2="176.80" stroke="#000" stroke-width="1.2" />
<text x="40.30" y="179.40" font-size="7.7" font-weight="normal" text-anchor="end" fill="#1a1a1a" textLength="7.90" lengthAdjust="spacingAndGlyphs" stroke="#1a1a1a" stroke-width="0.1">40</text>
<line x1="43.00" y1="196.20" x2="46.30" y2="196.20" stroke="#000" stroke-width="1.2" />
<text x="40.30" y="198.80" font-size="7.7" font-weight="normal" text-anchor="end" fill="#1a1a1a" textLength="7.90" lengthAdjust="spacingAndGlyphs" stroke="#1a1a1a" stroke-width="0.1">30</text>
<line x1="43.00" y1="215.60" x2="46.30" y2="215.60" stroke="#000" stroke-width="1.2" />
<text x="40.30" y="218.20" font-size="7.7" font-weight="normal" text-anchor="end" fill="#1a1a1a" textLength="7.90" lengthAdjust="spacingAndGlyphs" stroke="#1a1a1a" stroke-width="0.1">20</text>
<line x1="43.00" y1="235.00" x2="46.30" y2="235.00" stroke="#000" stroke-width="1.2" />
<text x="40.30" y="237.60" font-size="7.7" font-weight="normal" text-anchor="end" fill="#1a1a1a" textLength="7.90" lengthAdjust="spacingAndGlyphs" stroke="#1a1a1a" stroke-width="0.1">10</text>
<line x1="43.00" y1="254.40" x2="46.30" y2="254.40" stroke="#000" stroke-width="1.2" />
<text x="40.30" y="257.00" font-size="7.7" font-weight="normal" text-anchor="end" fill="#1a1a1a" textLength="3.95" lengthAdjust="spacingAndGlyphs" stroke="#1a1a1a" stroke-width="0.1">0</text>
<line x1="80.80" y1="254.70" x2="80.80" y2="257.70" stroke="#000" stroke-width="1.2" />
<line x1="132.50" y1="254.70" x2="132.50" y2="257.70" stroke="#000" stroke-width="1.2" />
<text x="25.90" y="241.50" font-size="9.7" font-weight="normal" text-anchor="start" fill="#1a1a1a" textLength="56.00" lengthAdjust="spacingAndGlyphs" stroke="#1a1a1a" stroke-width="0.15" transform="rotate(-90 25.90 241.50)">IC50 of BTZ (nM)</text>
<text x="80.60" y="267.70" font-size="7.3" font-weight="normal" text-anchor="middle" fill="#1a1a1a" textLength="15.30" lengthAdjust="spacingAndGlyphs" stroke="#1a1a1a" stroke-width="0.12">High</text>
<text x="80.80" y="276.30" font-size="7.3" font-weight="normal" text-anchor="middle" fill="#1a1a1a" textLength="34.60" lengthAdjust="spacingAndGlyphs" stroke="#1a1a1a" stroke-width="0.12">expression</text>
<text x="132.30" y="267.70" font-size="7.3" font-weight="normal" text-anchor="middle" fill="#1a1a1a" textLength="13.40" lengthAdjust="spacingAndGlyphs" stroke="#1a1a1a" stroke-width="0.12">Low</text>
<text x="132.20" y="276.30" font-size="7.3" font-weight="normal" text-anchor="middle" fill="#1a1a1a" textLength="34.40" lengthAdjust="spacingAndGlyphs" stroke="#1a1a1a" stroke-width="0.12">expression</text>
<text x="79.00" y="289.80" font-size="9.7" font-weight="normal" text-anchor="start" fill="#1a1a1a" textLength="55.60" lengthAdjust="spacingAndGlyphs" stroke="#1a1a1a" stroke-width="0.2">MM patient cells</text>
<polyline points="80.60,226.00 80.60,179.80 132.30,179.80 132.30,183.60" fill="none" stroke="#000" stroke-width="1.1" stroke-linejoin="miter"/>
<text x="89.00" y="177.00" font-size="6.9" font-weight="normal" text-anchor="start" fill="#1a1a1a" textLength="35.10" lengthAdjust="spacingAndGlyphs" stroke="#1a1a1a" stroke-width="0.08">***p= 0.0003</text>
<rect x="130.90" y="192.90" width="3.2" height="3.2" fill="#aa0026"/>
<rect x="130.90" y="211.50" width="3.2" height="3.2" fill="#aa0026"/>
<rect x="130.90" y="222.50" width="3.2" height="3.2" fill="#aa0026"/>
<rect x="130.90" y="227.20" width="3.2" height="3.2" fill="#aa0026"/>
<line x1="132.50" y1="207.30" x2="132.50" y2="222.50" stroke="#000" stroke-width="1.1" />
<line x1="123.90" y1="207.30" x2="140.70" y2="207.30" stroke="#000" stroke-width="1.2" />
<line x1="123.90" y1="222.50" x2="140.70" y2="222.50" stroke="#000" stroke-width="1.2" />
<line x1="115.00" y1="215.00" x2="149.00" y2="215.00" stroke="#000" stroke-width="1.3" />
<circle cx="67.00" cy="247.10" r="1.6" fill="#aa0026"/>
<circle cx="73.75" cy="248.75" r="1.6" fill="#aa0026"/>
<circle cx="77.30" cy="244.40" r="1.6" fill="#aa0026"/>
<circle cx="80.80" cy="250.00" r="1.6" fill="#aa0026"/>
<circle cx="84.00" cy="242.00" r="1.6" fill="#aa0026"/>
<circle cx="87.50" cy="250.00" r="1.6" fill="#aa0026"/>
<circle cx="94.20" cy="250.20" r="1.6" fill="#aa0026"/>
<circle cx="80.80" cy="247.50" r="1.6" fill="#aa0026"/>
<rect x="72.3" y="245.6" width="16.8" height="3.2" fill="#000"/>
<line x1="63.70" y1="247.50" x2="97.80" y2="247.50" stroke="#000" stroke-width="1.3" />
<line x1="219.20" y1="175.90" x2="219.20" y2="255.20" stroke="#000" stroke-width="1.4" />
<line x1="216.00" y1="254.70" x2="336.90" y2="254.70" stroke="#000" stroke-width="1.8" />
<line x1="215.90" y1="178.40" x2="219.20" y2="178.40" stroke="#000" stroke-width="1.2" />
<text x="212.40" y="181.00" font-size="7.7" font-weight="normal" text-anchor="end" fill="#1a1a1a" textLength="7.90" lengthAdjust="spacingAndGlyphs" stroke="#1a1a1a" stroke-width="0.1">25</text>
<line x1="215.90" y1="193.60" x2="219.20" y2="193.60" stroke="#000" stroke-width="1.2" />
<text x="212.40" y="196.20" font-size="7.7" font-weight="normal" text-anchor="end" fill="#1a1a1a" textLength="7.90" lengthAdjust="spacingAndGlyphs" stroke="#1a1a1a" stroke-width="0.1">20</text>
<line x1="215.90" y1="208.80" x2="219.20" y2="208.80" stroke="#000" stroke-width="1.2" />
<text x="212.40" y="211.40" font-size="7.7" font-weight="normal" text-anchor="end" fill="#1a1a1a" textLength="7.90" lengthAdjust="spacingAndGlyphs" stroke="#1a1a1a" stroke-width="0.1">15</text>
<line x1="215.90" y1="224.00" x2="219.20" y2="224.00" stroke="#000" stroke-width="1.2" />
<text x="212.40" y="226.60" font-size="7.7" font-weight="normal" text-anchor="end" fill="#1a1a1a" textLength="7.90" lengthAdjust="spacingAndGlyphs" stroke="#1a1a1a" stroke-width="0.1">10</text>
<line x1="215.90" y1="239.20" x2="219.20" y2="239.20" stroke="#000" stroke-width="1.2" />
<text x="212.40" y="241.80" font-size="7.7" font-weight="normal" text-anchor="end" fill="#1a1a1a" textLength="3.95" lengthAdjust="spacingAndGlyphs" stroke="#1a1a1a" stroke-width="0.1">5</text>
<line x1="215.90" y1="254.40" x2="219.20" y2="254.40" stroke="#000" stroke-width="1.2" />
<text x="212.40" y="257.00" font-size="7.7" font-weight="normal" text-anchor="end" fill="#1a1a1a" textLength="3.95" lengthAdjust="spacingAndGlyphs" stroke="#1a1a1a" stroke-width="0.1">0</text>
<line x1="252.60" y1="254.70" x2="252.60" y2="257.70" stroke="#000" stroke-width="1.2" />
<line x1="303.20" y1="254.70" x2="303.20" y2="257.70" stroke="#000" stroke-width="1.2" />
<text x="198.80" y="242.60" font-size="9.7" font-weight="normal" text-anchor="start" fill="#1a1a1a" textLength="56.90" lengthAdjust="spacingAndGlyphs" stroke="#1a1a1a" stroke-width="0.2" transform="rotate(-90 198.80 242.60)">IC50 of CFZ (nM)</text>
<text x="252.50" y="267.70" font-size="7.3" font-weight="normal" text-anchor="middle" fill="#1a1a1a" textLength="15.30" lengthAdjust="spacingAndGlyphs" stroke="#1a1a1a" stroke-width="0.12">High</text>
<text x="252.70" y="276.30" font-size="7.3" font-weight="normal" text-anchor="middle" fill="#1a1a1a" textLength="34.00" lengthAdjust="spacingAndGlyphs" stroke="#1a1a1a" stroke-width="0.12">expression</text>
<text x="303.30" y="267.70" font-size="7.3" font-weight="normal" text-anchor="middle" fill="#1a1a1a" textLength="13.40" lengthAdjust="spacingAndGlyphs" stroke="#1a1a1a" stroke-width="0.12">Low</text>
<text x="303.30" y="276.30" font-size="7.3" font-weight="normal" text-anchor="middle" fill="#1a1a1a" textLength="34.00" lengthAdjust="spacingAndGlyphs" stroke="#1a1a1a" stroke-width="0.12">expression</text>
<text x="250.70" y="289.80" font-size="9.7" font-weight="normal" text-anchor="start" fill="#1a1a1a" textLength="55.30" lengthAdjust="spacingAndGlyphs" stroke="#1a1a1a" stroke-width="0.2">MM patient cells</text>
<polyline points="252.60,224.50 252.60,179.10 303.20,179.10 303.20,181.80" fill="none" stroke="#000" stroke-width="1.2" stroke-linejoin="miter"/>
<text x="261.80" y="175.70" font-size="6.9" font-weight="normal" text-anchor="start" fill="#1a1a1a" textLength="31.60" lengthAdjust="spacingAndGlyphs" stroke="#1a1a1a" stroke-width="0.08">*p = 0.0181</text>
<circle cx="303.20" cy="186.90" r="1.6" fill="#aa0026"/>
<circle cx="303.20" cy="219.90" r="1.6" fill="#aa0026"/>
<circle cx="301.10" cy="230.50" r="1.6" fill="#aa0026"/>
<circle cx="305.20" cy="233.30" r="1.6" fill="#aa0026"/>
<line x1="303.20" y1="207.20" x2="303.20" y2="228.00" stroke="#000" stroke-width="1.1" />
<line x1="295.00" y1="207.20" x2="311.50" y2="207.20" stroke="#000" stroke-width="1.2" />
<line x1="295.00" y1="228.00" x2="311.50" y2="228.00" stroke="#000" stroke-width="1.2" />
<line x1="287.20" y1="217.60" x2="320.00" y2="217.60" stroke="#000" stroke-width="1.3" />
<circle cx="239.30" cy="243.30" r="1.6" fill="#aa0026"/>
<circle cx="246.20" cy="244.70" r="1.6" fill="#aa0026"/>
<circle cx="252.60" cy="234.40" r="1.6" fill="#aa0026"/>
<circle cx="252.60" cy="245.20" r="1.6" fill="#aa0026"/>
<circle cx="259.50" cy="245.40" r="1.6" fill="#aa0026"/>
<circle cx="266.10" cy="246.90" r="1.6" fill="#aa0026"/>
<line x1="252.60" y1="241.30" x2="252.60" y2="245.40" stroke="#000" stroke-width="1.1" />
<line x1="244.40" y1="241.30" x2="260.80" y2="241.30" stroke="#000" stroke-width="1.1" />
<line x1="244.40" y1="245.40" x2="260.80" y2="245.40" stroke="#000" stroke-width="1.1" />
<line x1="236.20" y1="243.30" x2="269.20" y2="243.30" stroke="#000" stroke-width="1.3" />
<line x1="396.50" y1="178.10" x2="396.50" y2="255.20" stroke="#000" stroke-width="1.4" />
<line x1="393.30" y1="254.70" x2="509.50" y2="254.70" stroke="#000" stroke-width="1.5" />
<line x1="393.10" y1="254.60" x2="396.50" y2="254.60" stroke="#000" stroke-width="1.2" />
<line x1="394.60" y1="251.29" x2="396.50" y2="251.29" stroke="#000" stroke-width="1.0" />
<line x1="394.60" y1="247.98" x2="396.50" y2="247.98" stroke="#000" stroke-width="1.0" />
<line x1="394.60" y1="244.67" x2="396.50" y2="244.67" stroke="#000" stroke-width="1.0" />
<line x1="394.60" y1="241.36" x2="396.50" y2="241.36" stroke="#000" stroke-width="1.0" />
<line x1="394.60" y1="238.05" x2="396.50" y2="238.05" stroke="#000" stroke-width="1.0" />
<line x1="394.60" y1="234.74" x2="396.50" y2="234.74" stroke="#000" stroke-width="1.0" />
<line x1="394.60" y1="231.43" x2="396.50" y2="231.43" stroke="#000" stroke-width="1.0" />
<line x1="394.60" y1="228.12" x2="396.50" y2="228.12" stroke="#000" stroke-width="1.0" />
<line x1="394.60" y1="224.81" x2="396.50" y2="224.81" stroke="#000" stroke-width="1.0" />
<line x1="393.10" y1="221.50" x2="396.50" y2="221.50" stroke="#000" stroke-width="1.2" />
<line x1="394.60" y1="218.19" x2="396.50" y2="218.19" stroke="#000" stroke-width="1.0" />
<line x1="394.60" y1="214.88" x2="396.50" y2="214.88" stroke="#000" stroke-width="1.0" />
<line x1="394.60" y1="211.57" x2="396.50" y2="211.57" stroke="#000" stroke-width="1.0" />
<line x1="394.60" y1="208.26" x2="396.50" y2="208.26" stroke="#000" stroke-width="1.0" />
<line x1="394.60" y1="204.95" x2="396.50" y2="204.95" stroke="#000" stroke-width="1.0" />
<line x1="394.60" y1="201.64" x2="396.50" y2="201.64" stroke="#000" stroke-width="1.0" />
<line x1="394.60" y1="198.33" x2="396.50" y2="198.33" stroke="#000" stroke-width="1.0" />
<line x1="394.60" y1="195.02" x2="396.50" y2="195.02" stroke="#000" stroke-width="1.0" />
<line x1="394.60" y1="191.71" x2="396.50" y2="191.71" stroke="#000" stroke-width="1.0" />
<line x1="393.10" y1="188.40" x2="396.50" y2="188.40" stroke="#000" stroke-width="1.2" />
<line x1="394.60" y1="185.09" x2="396.50" y2="185.09" stroke="#000" stroke-width="1.0" />
<line x1="394.60" y1="181.78" x2="396.50" y2="181.78" stroke="#000" stroke-width="1.0" />
<line x1="394.60" y1="178.47" x2="396.50" y2="178.47" stroke="#000" stroke-width="1.0" />
<text x="390.00" y="191.00" font-size="7.7" font-weight="normal" text-anchor="end" fill="#1a1a1a" textLength="11.85" lengthAdjust="spacingAndGlyphs" stroke="#1a1a1a" stroke-width="0.1">100</text>
<text x="390.00" y="224.10" font-size="7.7" font-weight="normal" text-anchor="end" fill="#1a1a1a" textLength="7.90" lengthAdjust="spacingAndGlyphs" stroke="#1a1a1a" stroke-width="0.1">50</text>
<text x="390.00" y="257.20" font-size="7.7" font-weight="normal" text-anchor="end" fill="#1a1a1a" textLength="3.95" lengthAdjust="spacingAndGlyphs" stroke="#1a1a1a" stroke-width="0.1">0</text>
<line x1="396.60" y1="254.70" x2="396.60" y2="257.70" stroke="#000" stroke-width="1.2" />
<text x="396.60" y="267.40" font-size="7.7" font-weight="normal" text-anchor="middle" fill="#1a1a1a" textLength="3.95" lengthAdjust="spacingAndGlyphs" stroke="#1a1a1a" stroke-width="0.1">0</text>
<line x1="423.90" y1="254.70" x2="423.90" y2="257.70" stroke="#000" stroke-width="1.2" />
<text x="423.90" y="267.40" font-size="7.7" font-weight="normal" text-anchor="middle" fill="#1a1a1a" textLength="7.90" lengthAdjust="spacingAndGlyphs" stroke="#1a1a1a" stroke-width="0.1">10</text>
<line x1="451.20" y1="254.70" x2="451.20" y2="257.70" stroke="#000" stroke-width="1.2" />
<text x="451.20" y="267.40" font-size="7.7" font-weight="normal" text-anchor="middle" fill="#1a1a1a" textLength="7.90" lengthAdjust="spacingAndGlyphs" stroke="#1a1a1a" stroke-width="0.1">20</text>
<line x1="478.50" y1="254.70" x2="478.50" y2="257.70" stroke="#000" stroke-width="1.2" />
<text x="478.50" y="267.40" font-size="7.7" font-weight="normal" text-anchor="middle" fill="#1a1a1a" textLength="7.90" lengthAdjust="spacingAndGlyphs" stroke="#1a1a1a" stroke-width="0.1">30</text>
<line x1="505.80" y1="254.70" x2="505.80" y2="257.70" stroke="#000" stroke-width="1.2" />
<text x="505.80" y="267.40" font-size="7.7" font-weight="normal" text-anchor="middle" fill="#1a1a1a" textLength="7.90" lengthAdjust="spacingAndGlyphs" stroke="#1a1a1a" stroke-width="0.1">40</text>
<text x="432.80" y="280.50" font-size="9.7" font-weight="normal" text-anchor="start" fill="#1a1a1a" textLength="41.40" lengthAdjust="spacingAndGlyphs" stroke="#1a1a1a" stroke-width="0.2">PFS (month)</text>
<text x="371.80" y="242.00" font-size="9.7" font-weight="normal" text-anchor="start" fill="#1a1a1a" textLength="52.80" lengthAdjust="spacingAndGlyphs" stroke="#1a1a1a" stroke-width="0.18" transform="rotate(-90 371.80 242.00)">Percent survival</text>
<line x1="396.50" y1="188.40" x2="478.50" y2="188.40" stroke="#7bb85a" stroke-width="1.3" />
<line x1="429.20" y1="186.90" x2="429.20" y2="188.40" stroke="#7bb85a" stroke-width="0.9" />
<line x1="451.20" y1="186.90" x2="451.20" y2="188.40" stroke="#7bb85a" stroke-width="0.9" />
<line x1="467.40" y1="186.90" x2="467.40" y2="188.40" stroke="#7bb85a" stroke-width="0.9" />
<polyline points="396.50,188.40 401.60,188.40 401.60,193.40 407.30,193.40 407.30,198.60 415.50,198.60 415.50,203.90 423.75,203.90 423.75,209.30 426.00,209.30 426.00,220.70 428.80,220.70 428.80,232.20 434.40,232.20 434.40,239.70 459.60,239.70 459.60,254.60" fill="none" stroke="#3d5a95" stroke-width="1.3" stroke-linejoin="miter"/>
<line x1="432.50" y1="230.80" x2="432.50" y2="232.20" stroke="#3d5a95" stroke-width="0.9" />
<line x1="443.00" y1="238.30" x2="443.00" y2="239.70" stroke="#3d5a95" stroke-width="0.9" />
<line x1="467.20" y1="218.50" x2="475.00" y2="218.50" stroke="#3d5a95" stroke-width="1.3" />
<line x1="471.10" y1="217.40" x2="471.10" y2="218.50" stroke="#3d5a95" stroke-width="0.9" />
<text x="478.50" y="220.30" font-size="6.3" font-weight="normal" text-anchor="start" fill="#1a1a1a" textLength="19.50" lengthAdjust="spacingAndGlyphs">&lt;50g/L</text>
<line x1="467.20" y1="228.10" x2="475.00" y2="228.10" stroke="#7bb85a" stroke-width="1.3" />
<line x1="471.10" y1="227.00" x2="471.10" y2="228.10" stroke="#7bb85a" stroke-width="0.9" />
<text x="478.50" y="229.90" font-size="6.3" font-weight="normal" text-anchor="start" fill="#1a1a1a" textLength="23.30" lengthAdjust="spacingAndGlyphs">&gt;=50g/L</text>
<text x="402.70" y="249.40" font-size="6.8" font-weight="normal" text-anchor="start" fill="#1a1a1a" textLength="26.10" lengthAdjust="spacingAndGlyphs" stroke="#1a1a1a" stroke-width="0.08">p=0.0102</text>
<line x1="46.20" y1="331.90" x2="46.20" y2="406.10" stroke="#000" stroke-width="1.4" />
<line x1="43.00" y1="405.60" x2="155.80" y2="405.60" stroke="#000" stroke-width="1.6" />
<line x1="42.90" y1="335.00" x2="46.20" y2="335.00" stroke="#000" stroke-width="1.2" />
<text x="39.80" y="337.60" font-size="7.7" font-weight="normal" text-anchor="end" fill="#1a1a1a" textLength="3.95" lengthAdjust="spacingAndGlyphs" stroke="#1a1a1a" stroke-width="0.1">5</text>
<line x1="42.90" y1="349.08" x2="46.20" y2="349.08" stroke="#000" stroke-width="1.2" />
<text x="39.80" y="351.68" font-size="7.7" font-weight="normal" text-anchor="end" fill="#1a1a1a" textLength="3.95" lengthAdjust="spacingAndGlyphs" stroke="#1a1a1a" stroke-width="0.1">4</text>
<line x1="42.90" y1="363.16" x2="46.20" y2="363.16" stroke="#000" stroke-width="1.2" />
<text x="39.80" y="365.76" font-size="7.7" font-weight="normal" text-anchor="end" fill="#1a1a1a" textLength="3.95" lengthAdjust="spacingAndGlyphs" stroke="#1a1a1a" stroke-width="0.1">3</text>
<line x1="42.90" y1="377.24" x2="46.20" y2="377.24" stroke="#000" stroke-width="1.2" />
<text x="39.80" y="379.84" font-size="7.7" font-weight="normal" text-anchor="end" fill="#1a1a1a" textLength="3.95" lengthAdjust="spacingAndGlyphs" stroke="#1a1a1a" stroke-width="0.1">2</text>
<line x1="42.90" y1="391.32" x2="46.20" y2="391.32" stroke="#000" stroke-width="1.2" />
<text x="39.80" y="393.92" font-size="7.7" font-weight="normal" text-anchor="end" fill="#1a1a1a" textLength="3.95" lengthAdjust="spacingAndGlyphs" stroke="#1a1a1a" stroke-width="0.1">1</text>
<line x1="42.90" y1="405.40" x2="46.20" y2="405.40" stroke="#000" stroke-width="1.2" />
<text x="39.80" y="408.00" font-size="7.7" font-weight="normal" text-anchor="end" fill="#1a1a1a" textLength="3.95" lengthAdjust="spacingAndGlyphs" stroke="#1a1a1a" stroke-width="0.1">0</text>
<line x1="77.40" y1="405.60" x2="77.40" y2="408.60" stroke="#000" stroke-width="1.2" />
<line x1="124.60" y1="405.60" x2="124.60" y2="408.60" stroke="#000" stroke-width="1.2" />
<text x="30.00" y="398.10" font-size="9.7" font-weight="normal" text-anchor="start" fill="#1a1a1a" textLength="59.30" lengthAdjust="spacingAndGlyphs" stroke="#1a1a1a" stroke-width="0.22" transform="rotate(-90 30.00 398.10)">YWHAE (CT value)</text>
<text x="62.60" y="418.50" font-size="7.2" font-weight="normal" text-anchor="start" fill="#1a1a1a" textLength="29.80" lengthAdjust="spacingAndGlyphs" stroke="#1a1a1a" stroke-width="0.12">secretory</text>
<text x="102.00" y="418.50" font-size="7.2" font-weight="normal" text-anchor="start" fill="#1a1a1a" textLength="45.20" lengthAdjust="spacingAndGlyphs" stroke="#1a1a1a" stroke-width="0.12">non-secretory</text>
<polyline points="77.40,361.50 77.40,332.70 124.70,332.70 124.70,337.30" fill="none" stroke="#000" stroke-width="1.1" stroke-linejoin="miter"/>
<text x="85.00" y="329.80" font-size="6.9" font-weight="normal" text-anchor="start" fill="#1a1a1a" textLength="31.90" lengthAdjust="spacingAndGlyphs" stroke="#1a1a1a" stroke-width="0.08">*p = 0.0291</text>
<circle cx="64.90" cy="368.20" r="1.6" fill="#aa0026"/>
<circle cx="71.20" cy="367.80" r="1.6" fill="#aa0026"/>
<circle cx="77.40" cy="364.50" r="1.6" fill="#aa0026"/>
<circle cx="83.80" cy="366.20" r="1.6" fill="#aa0026"/>
<circle cx="90.10" cy="366.40" r="1.6" fill="#aa0026"/>
<circle cx="77.40" cy="373.80" r="1.6" fill="#aa0026"/>
<circle cx="74.40" cy="385.50" r="1.6" fill="#aa0026"/>
<circle cx="80.80" cy="386.90" r="1.6" fill="#aa0026"/>
<circle cx="77.40" cy="400.30" r="1.6" fill="#aa0026"/>
<line x1="77.40" y1="371.20" x2="77.40" y2="379.80" stroke="#000" stroke-width="1.1" />
<line x1="69.50" y1="371.20" x2="85.50" y2="371.20" stroke="#000" stroke-width="1.2" />
<line x1="69.50" y1="379.80" x2="85.50" y2="379.80" stroke="#000" stroke-width="1.2" />
<line x1="61.90" y1="375.40" x2="93.50" y2="375.40" stroke="#000" stroke-width="1.3" />
<rect x="123.10" y="339.20" width="3.2" height="3.2" fill="#aa0026"/>
<rect x="123.10" y="346.60" width="3.2" height="3.2" fill="#aa0026"/>
<rect x="123.10" y="362.20" width="3.2" height="3.2" fill="#aa0026"/>
<rect x="123.10" y="369.20" width="3.2" height="3.2" fill="#aa0026"/>
<line x1="124.70" y1="349.10" x2="124.70" y2="362.90" stroke="#000" stroke-width="1.1" />
<line x1="116.90" y1="349.10" x2="132.30" y2="349.10" stroke="#000" stroke-width="1.2" />
<line x1="116.90" y1="362.90" x2="132.30" y2="362.90" stroke="#000" stroke-width="1.2" />
<line x1="109.20" y1="356.00" x2="139.70" y2="356.00" stroke="#000" stroke-width="1.3" />
<line x1="219.20" y1="325.90" x2="219.20" y2="404.50" stroke="#000" stroke-width="1.4" />
<line x1="216.00" y1="404.00" x2="331.60" y2="404.00" stroke="#000" stroke-width="1.6" />
<line x1="215.90" y1="329.32" x2="219.20" y2="329.32" stroke="#000" stroke-width="1.2" />
<text x="212.40" y="331.92" font-size="7.7" font-weight="normal" text-anchor="end" fill="#1a1a1a" textLength="3.95" lengthAdjust="spacingAndGlyphs" stroke="#1a1a1a" stroke-width="0.1">4</text>
<line x1="215.90" y1="347.94" x2="219.20" y2="347.94" stroke="#000" stroke-width="1.2" />
<text x="212.40" y="350.54" font-size="7.7" font-weight="normal" text-anchor="end" fill="#1a1a1a" textLength="3.95" lengthAdjust="spacingAndGlyphs" stroke="#1a1a1a" stroke-width="0.1">3</text>
<line x1="215.90" y1="366.56" x2="219.20" y2="366.56" stroke="#000" stroke-width="1.2" />
<text x="212.40" y="369.16" font-size="7.7" font-weight="normal" text-anchor="end" fill="#1a1a1a" textLength="3.95" lengthAdjust="spacingAndGlyphs" stroke="#1a1a1a" stroke-width="0.1">2</text>
<line x1="215.90" y1="385.18" x2="219.20" y2="385.18" stroke="#000" stroke-width="1.2" />
<text x="212.40" y="387.78" font-size="7.7" font-weight="normal" text-anchor="end" fill="#1a1a1a" textLength="3.95" lengthAdjust="spacingAndGlyphs" stroke="#1a1a1a" stroke-width="0.1">1</text>
<line x1="215.90" y1="403.80" x2="219.20" y2="403.80" stroke="#000" stroke-width="1.2" />
<text x="212.40" y="406.40" font-size="7.7" font-weight="normal" text-anchor="end" fill="#1a1a1a" textLength="3.95" lengthAdjust="spacingAndGlyphs" stroke="#1a1a1a" stroke-width="0.1">0</text>
<line x1="250.75" y1="404.00" x2="250.75" y2="407.00" stroke="#000" stroke-width="1.2" />
<line x1="298.90" y1="404.00" x2="298.90" y2="407.00" stroke="#000" stroke-width="1.2" />
<text x="202.50" y="400.50" font-size="9.7" font-weight="normal" text-anchor="start" fill="#1a1a1a" textLength="71.00" lengthAdjust="spacingAndGlyphs" stroke="#1a1a1a" stroke-width="0.22" transform="rotate(-90 202.50 400.50)">YWHAE (fold change)</text>
<text x="234.60" y="418.50" font-size="7.2" font-weight="normal" text-anchor="start" fill="#1a1a1a" textLength="30.20" lengthAdjust="spacingAndGlyphs" stroke="#1a1a1a" stroke-width="0.12">secretory</text>
<text x="278.50" y="418.50" font-size="7.2" font-weight="normal" text-anchor="start" fill="#1a1a1a" textLength="45.00" lengthAdjust="spacingAndGlyphs" stroke="#1a1a1a" stroke-width="0.12">non-secretory</text>
<polyline points="250.75,333.90 250.75,331.25 298.90,331.25 298.90,377.70" fill="none" stroke="#000" stroke-width="1.1" stroke-linejoin="miter"/>
<text x="262.50" y="328.00" font-size="6.9" font-weight="normal" text-anchor="start" fill="#1a1a1a" textLength="25.50" lengthAdjust="spacingAndGlyphs" stroke="#1a1a1a" stroke-width="0.08">*p=0.039</text>
<circle cx="248.10" cy="337.90" r="1.6" fill="#aa0026"/>
<circle cx="253.60" cy="337.50" r="1.6" fill="#aa0026"/>
<circle cx="248.10" cy="357.10" r="1.6" fill="#aa0026"/>
<circle cx="253.60" cy="358.00" r="1.6" fill="#aa0026"/>
<circle cx="250.90" cy="363.60" r="1.6" fill="#aa0026"/>
<circle cx="237.50" cy="385.10" r="1.6" fill="#aa0026"/>
<circle cx="242.70" cy="386.40" r="1.6" fill="#aa0026"/>
<circle cx="248.10" cy="387.20" r="1.6" fill="#aa0026"/>
<circle cx="253.60" cy="387.20" r="1.6" fill="#aa0026"/>
<circle cx="259.00" cy="386.40" r="1.6" fill="#aa0026"/>
<circle cx="264.20" cy="386.10" r="1.6" fill="#aa0026"/>
<circle cx="253.60" cy="391.10" r="1.6" fill="#aa0026"/>
<circle cx="242.70" cy="394.70" r="1.6" fill="#aa0026"/>
<circle cx="242.70" cy="396.20" r="1.6" fill="#aa0026"/>
<circle cx="248.10" cy="394.50" r="1.6" fill="#aa0026"/>
<circle cx="259.00" cy="394.10" r="1.6" fill="#aa0026"/>
<circle cx="248.10" cy="399.20" r="1.6" fill="#aa0026"/>
<circle cx="253.60" cy="399.50" r="1.6" fill="#aa0026"/>
<circle cx="259.00" cy="400.10" r="1.6" fill="#aa0026"/>
<circle cx="242.70" cy="399.60" r="1.6" fill="#aa0026"/>
<line x1="250.75" y1="360.80" x2="250.75" y2="401.00" stroke="#000" stroke-width="1.1" />
<line x1="243.10" y1="360.80" x2="259.00" y2="360.80" stroke="#000" stroke-width="1.2" />
<line x1="243.10" y1="401.00" x2="259.00" y2="401.00" stroke="#000" stroke-width="1.2" />
<line x1="235.20" y1="380.80" x2="266.40" y2="380.80" stroke="#000" stroke-width="1.3" />
<rect x="297.60" y="383.20" width="3.0" height="3.0" fill="#aa0026"/>
<rect x="297.60" y="388.50" width="3.0" height="3.0" fill="#aa0026"/>
<rect x="297.60" y="392.30" width="3.0" height="3.0" fill="#aa0026"/>
<rect x="284.60" y="395.50" width="3.0" height="3.0" fill="#aa0026"/>
<rect x="291.10" y="396.70" width="3.0" height="3.0" fill="#aa0026"/>
<rect x="297.60" y="397.40" width="3.0" height="3.0" fill="#aa0026"/>
<rect x="303.70" y="398.20" width="3.0" height="3.0" fill="#aa0026"/>
<rect x="310.20" y="398.30" width="3.0" height="3.0" fill="#aa0026"/>
<line x1="299.10" y1="390.00" x2="299.10" y2="400.30" stroke="#000" stroke-width="1.1" />
<line x1="291.20" y1="390.00" x2="307.00" y2="390.00" stroke="#000" stroke-width="1.2" />
<line x1="291.20" y1="400.30" x2="307.00" y2="400.30" stroke="#000" stroke-width="1.2" />
<line x1="283.30" y1="395.40" x2="315.00" y2="395.40" stroke="#000" stroke-width="1.3" />
</svg></body></html>
